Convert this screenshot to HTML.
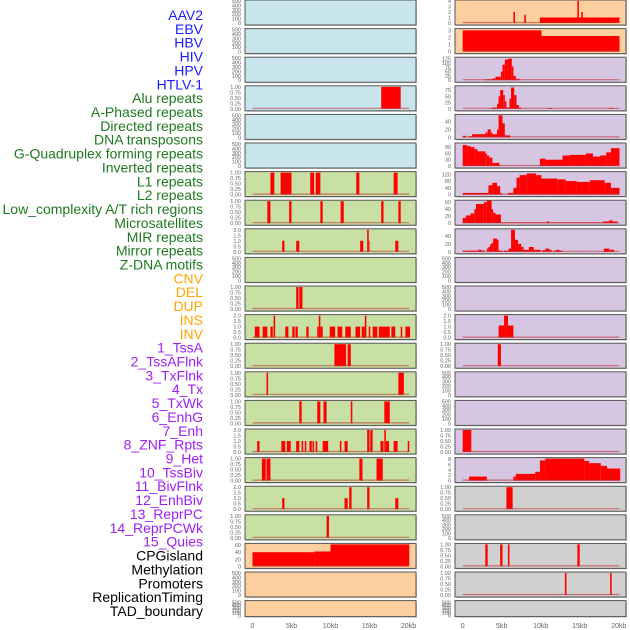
<!DOCTYPE html>
<html><head><meta charset="utf-8"><style>
body{margin:0;background:#fff;width:630px;height:630px;overflow:hidden}
svg{display:block}
</style></head><body>
<svg id="chart" width="630" height="630" viewBox="0 0 630 630" xmlns="http://www.w3.org/2000/svg" font-family="Liberation Sans, sans-serif"></svg>
<script>
const trackLabels = ["AAV2","EBV","HBV","HIV","HPV","HTLV-1","Alu repeats","A-Phased repeats","Directed repeats","DNA transposons","G-Quadruplex forming repeats","Inverted repeats","L1 repeats","L2 repeats","Low_complexity A/T rich regions","Microsatellites","MIR repeats","Mirror repeats","Z-DNA motifs","CNV","DEL","DUP","INS","INV","1_TssA","2_TssAFlnk","3_TxFlnk","4_Tx","5_TxWk","6_EnhG","7_Enh","8_ZNF_Rpts","9_Het","10_TssBiv","11_BivFlnk","12_EnhBiv","13_ReprPC","14_ReprPCWk","15_Quies","CPGisland","Methylation","Promoters","ReplicationTiming","TAD_boundary"];
const labelGroups = [6,13,5,15,5];
const groupColors = ["#1a1aff","#1f7a1f","#ffa500","#a020f0","#000000"];
const xTickLabels = ["0","5kb","10kb","15kb","20kb"];
const xTickValues = [0,5,10,15,20];
const T01 = ["0.00","0.25","0.50","0.75","1.00"];
const T02 = ["0.0","0.5","1.0","1.5","2.0"];
const T500 = ["0","100","200","300","400","500"];
// left column panels
const leftBg = ["#c8e4ec","#c8e4ec","#c8e4ec","#c8e4ec","#c8e4ec","#c8e4ec","#c8e0a4","#c8e0a4","#c8e0a4","#c8e0a4","#c8e0a4","#c8e0a4","#c8e0a4","#c8e0a4","#c8e0a4","#c8e0a4","#c8e0a4","#c8e0a4","#c8e0a4","#fecf9e","#fecf9e","#fecf9e"];
const leftMax = [500,500,500,1,500,500,1,1,2,500,1,2,1,1,1,2,1,2,1,62,500,500];
const leftTicks = [T500,T500,T500,T01,T500,T500,T01,T01,T02,T500,T01,T02,T01,T01,T01,T02,T01,T02,T01,["0","20","40","60"],T500,T500];
const leftSegs = [
 [],[],[],
 [[16.5,19.0,1]],
 [],[],
 [[2.3,2.8,1],[3.6,5.0,1],[7.4,7.9,1],[8.1,8.7,1],[13.3,13.7,1],[18.1,18.6,1]],
 [[1.9,2.3,1],[4.7,5.0,1],[8.7,9.0,1],[11.3,11.7,1],[16.5,16.8,1],[18.7,19.0,1]],
 [[3.8,4.1,1],[5.6,6.0,1],[13.8,14.2,1],[14.7,14.9,2],[14.9,15.0,1],[18.3,18.7,1]],
 [],
 [[5.6,5.9,1],[6.0,6.4,1]],
 [[0.3,0.9,1],[1.3,1.9,1],[2.3,2.6,1],[2.7,2.9,2],[4.2,4.6,1],[5.1,5.4,1],[5.5,5.8,1],[6.9,7.2,1],[8.3,8.5,1],[8.5,8.7,2],[8.7,9.0,1],[9.9,10.6,1],[10.9,11.5,1],[11.9,12.6,1],[13.2,13.8,1],[14.0,14.4,1],[14.4,14.6,2],[14.9,15.1,1],[15.4,16.0,1],[16.2,17.6,1],[17.8,18.3,1],[19.0,19.2,1],[19.6,20.2,1]],
 [[10.5,12.0,1],[12.2,12.6,1]],
 [[1.8,2.0,1],[18.7,19.4,1]],
 [[6.0,6.3,1],[8.3,8.7,1],[9.1,9.5,1],[12.6,12.8,1],[16.9,17.6,1]],
 [[0.6,0.9,1],[3.7,4.2,1],[4.4,4.9,1],[5.6,6.0,1],[6.3,6.5,1],[6.7,6.9,1],[7.3,7.6,1],[7.7,7.9,1],[8.1,8.3,1],[9.0,9.7,1],[11.2,11.4,1],[11.8,12.2,1],[14.7,15.0,2],[15.1,15.4,2],[16.4,16.8,1],[16.9,17.1,2],[17.1,17.5,1],[18.1,18.6,1],[19.9,20.1,1]],
 [[1.2,1.7,1],[1.8,2.3,1],[13.7,14.1,1],[15.9,16.7,1]],
 [[3.8,4.1,1],[11.8,12.2,1],[12.4,12.7,2],[14.7,15.0,2],[18.3,18.7,1]],
 [[9.5,9.8,1]],
 [[0,7.9,40],[7.9,10.0,42],[10.0,20.1,62]],
 [],[]
];
// right column panels
const rightBg = ["#fecf9e","#fecf9e","#d6c6e2","#d6c6e2","#d6c6e2","#d6c6e2","#d6c6e2","#d6c6e2","#d6c6e2","#d6c6e2","#d6c6e2","#d6c6e2","#d6c6e2","#d6c6e2","#d6c6e2","#d6c6e2","#d6c6e2","#d0d0d0","#d0d0d0","#d0d0d0","#d0d0d0","#d0d0d0"];
const rightMax = [4,3.1,128,88,55,105,130,63,55,500,500,2,1,500,500,1,8.2,1,500,1,1,500];
const rightTicks = [["0","1","2","3","4"],["0","1","2","3"],["0","25","50","75","100","125"],["0","25","50","75"],["0","20","40"],["0","30","60","90"],["0","40","80","120"],["0","20","40","60"],["0","20","40"],T500,T500,T02,T01,T500,T500,T01,["0","2","4","6","8"],T01,T500,T01,T01,T500];
const rightSegs = [
 [[6.5,6.7,2],[7.9,8.1,1.5],[9.9,20.1,1],[14.7,14.9,4],[15.2,15.4,2]],
 [[0,10.1,3],[10.1,20.1,2.2]],
 [[2.8,3.8,5],[3.8,4.2,10],[4.2,4.9,20],[4.9,5.1,50],[5.1,5.4,90],[5.4,5.8,120],[5.8,6.3,125],[6.3,6.5,80],[6.5,6.8,25],[6.8,7.3,8]],
 [[3.7,4.4,5],[4.4,4.6,20],[4.6,4.8,50],[4.8,5.2,75],[5.2,5.4,55],[5.4,5.6,30],[5.6,6.0,5],[6.0,6.2,40],[6.2,6.6,85],[6.6,6.9,55],[6.9,7.2,15],[7.2,7.5,5],[11.0,11.5,3],[18.8,19.3,3]],
 [[0,0.4,4],[0.8,1.2,3],[1.2,2.9,8],[2.9,3.2,12],[3.2,3.6,20],[3.6,3.8,12],[3.8,4.4,8],[4.4,4.6,20],[4.6,5.1,55],[5.1,5.4,35],[5.4,6.1,5]],
 [[0,0.6,100],[0.6,1.0,95],[1.0,1.5,90],[1.5,1.9,80],[1.9,2.9,70],[2.9,3.1,60],[3.1,3.4,50],[3.4,3.8,40],[3.8,4.7,15],[4.7,4.8,5],[9.9,10.6,35],[10.6,12.8,30],[12.8,13.7,50],[13.7,15.8,53],[15.8,16.7,60],[16.7,17.6,45],[17.6,18.4,50],[18.4,19.0,65],[19.0,20.1,85]],
 [[0,3.3,10],[3.3,3.8,55],[3.8,4.4,70],[4.4,4.8,50],[4.8,5.0,10],[5.8,6.5,10],[6.5,6.9,40],[6.9,7.3,100],[7.3,8.2,115],[8.2,9.4,125],[9.4,10.1,115],[10.1,12.1,95],[12.1,13.2,90],[13.2,14.6,80],[14.6,16.3,75],[16.3,18.2,85],[18.2,19.0,70],[19.0,20.1,40]],
 [[0,0.4,15],[0.4,1.0,22],[1.0,1.5,28],[1.5,1.7,40],[1.7,2.7,55],[2.7,3.1,60],[3.1,3.7,65],[3.7,3.9,40],[3.9,4.2,30],[4.2,4.9,25],[4.9,10.8,2],[10.8,11.1,5],[11.1,18.0,2],[18.0,18.8,5],[18.8,19.2,8],[19.2,19.8,5]],
 [[0,0.4,3],[0.5,2.0,3],[2.0,2.4,5],[2.4,2.8,3],[3.1,3.3,8],[3.3,3.5,12],[3.5,3.7,18],[3.7,3.9,22],[3.9,4.4,33],[4.4,4.6,30],[4.6,5.1,3],[5.3,5.9,3],[5.9,6.2,8],[6.2,6.7,55],[6.7,7.1,30],[7.1,7.5,20],[7.5,7.8,12],[7.8,8.5,5],[8.5,9.1,12],[9.1,10.0,5],[10.2,10.6,4],[10.6,11.1,8],[11.1,11.4,5],[11.6,12.0,3],[12.0,12.4,5],[12.4,12.8,3],[18.1,18.8,8],[18.8,19.4,5]],
 [],[],
 [[4.6,5.3,1.1],[5.3,5.8,2],[5.8,6.5,1.1]],
 [[4.5,4.9,1]],
 [],[],
 [[0,1.1,1]],
 [[0.8,3.1,1.5],[6.5,6.8,1.5],[6.8,9.3,2.5],[9.3,9.9,3.3],[9.9,10.6,7.5],[10.6,15.6,8.2],[15.6,16.2,7.3],[16.2,17.7,6.5],[17.7,18.5,5.5],[18.5,20.2,4.5]],
 [[5.6,6.4,1]],
 [],
 [[2.9,3.2,1],[4.8,5.1,1],[5.8,6.0,1],[14.7,15.0,1]],
 [[13.1,13.3,1],[18.9,19.1,1]],
 []
];

const NS="http://www.w3.org/2000/svg";
const svg=document.getElementById('chart');
function mk(tag,attrs,parent){const e=document.createElementNS(NS,tag);for(const k in attrs)e.setAttribute(k,attrs[k]);(parent||svg).appendChild(e);return e;}

// labels
let gi=0,cnt=0;
for(let i=0;i<trackLabels.length;i++){
  while(cnt>=labelGroups[gi]){cnt=0;gi++;}
  const t=mk('text',{x:203,y:15+i*13.86+5,'text-anchor':'end','font-size':14,fill:groupColors[gi]});
  
  
  t.textContent=trackLabels[i];
  cnt++;
}

function rowTop(i){return i*28.6;}
function rowH(i){return i===21?16:25;}

function drawColumn(px,x0,bgs,maxs,ticks,segs,side){
  const xs=v=>x0+v*7.8;
  for(let r=0;r<22;r++){
    const top=rowTop(r),h=rowH(r);
    const base=top+23, ph=22;
    const ys=v=>base-v/maxs[r]*ph;
    const g=mk('g',{});
    
    
    mk('rect',{x:px+1,y:top+1,width:171,height:h,fill:'#999','opacity':0.5},g);
    const bg=mk('rect',{x:px,y:top,width:171,height:h,fill:bgs[r],stroke:'#555','stroke-width':1},g);
    
    
    // ticks
    ticks[r].forEach(lbl=>{
      const v=parseFloat(lbl);
      let y=ys(v); if(r===21) y=top+h-1-(v/maxs[r])*(h-3);
      const t=mk('text',{x:px-4,y:y+2,'text-anchor':'end','font-size':5.5,fill:'#666'},g);
      
      
      t.textContent=lbl;
    });
    if(segs[r].length){
      segs[r].forEach(s=>{
        const b=mk('rect',{x:xs(s[0]),y:ys(s[2]),width:Math.max(0.8,xs(s[1])-xs(s[0])),height:base-ys(s[2]),fill:'#ff0000'},g);
        
        
      });
      const bl=mk('line',{x1:xs(0),x2:xs(20.1),y1:base-0.5,y2:base-0.5,stroke:'#c03030','stroke-width':1.2,opacity:0.6},g);
      
      
    }
  }
  xTickValues.forEach((v,i)=>{
    const t=mk('text',{x:xs(v),y:628,'text-anchor':'middle','font-size':7,fill:'#666'});
    
    
    t.textContent=xTickLabels[i];
  });
}
drawColumn(245,252.5,leftBg,leftMax,leftTicks,leftSegs,'left');
drawColumn(455,462.7,rightBg,rightMax,rightTicks,rightSegs,'right');
</script>
</body></html>
